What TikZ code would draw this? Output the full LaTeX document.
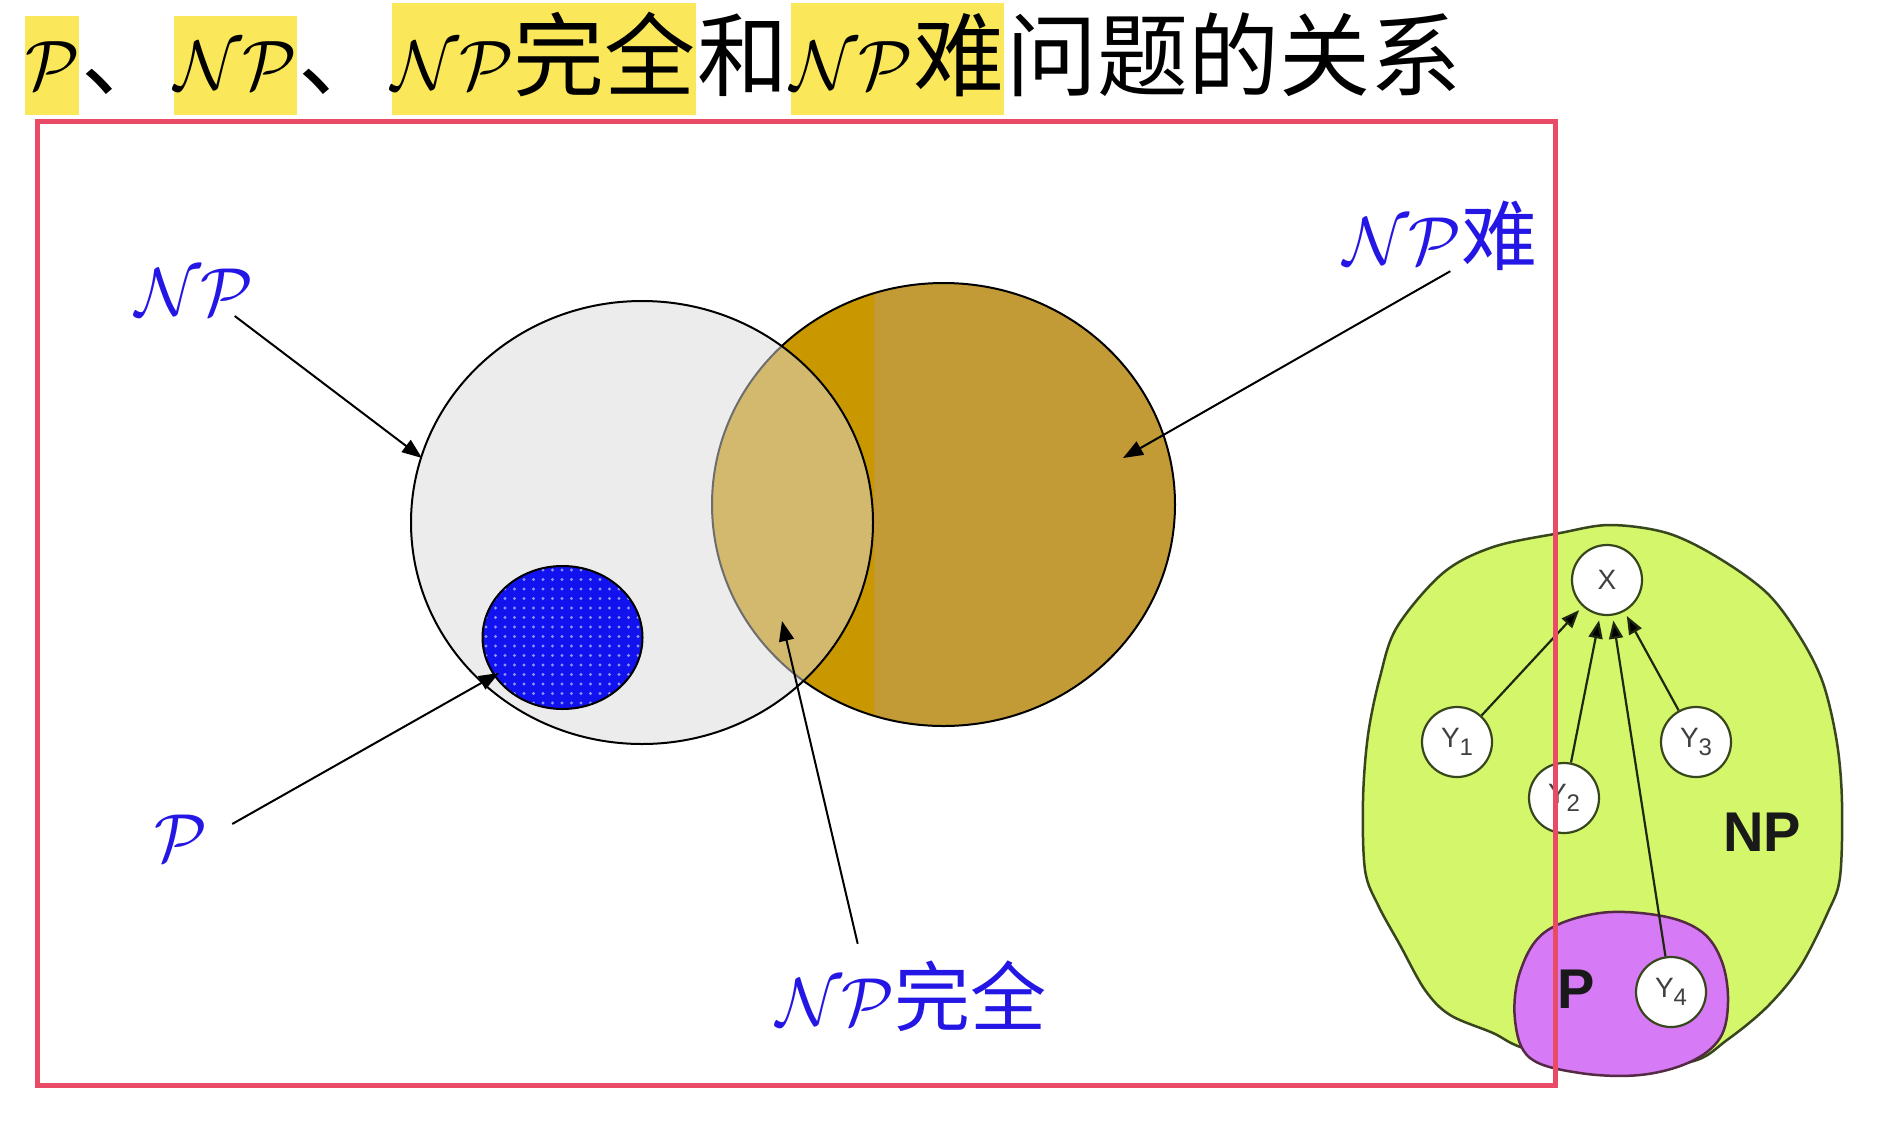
\RequirePackage{fix-cm}
\documentclass[tikz,border=0pt]{standalone}
\usepackage{fontspec}
\setsansfont{Liberation Sans}
\newfontfamily\cjk{Noto Sans CJK SC}
\usetikzlibrary{positioning,arrows.meta}

\definecolor{hlyellow}{RGB}{251,232,90}
\definecolor{framered}{RGB}{233,74,101}
\definecolor{labelblue}{RGB}{36,22,228}
\definecolor{hardgold}{RGB}{194,154,54}
\definecolor{stripgold}{RGB}{201,151,0}
\definecolor{npgray}{RGB}{219,219,219}
\definecolor{pblue}{RGB}{18,18,238}
\definecolor{pdot}{RGB}{140,150,255}
\definecolor{npgreen}{RGB}{212,246,106}
\definecolor{ppurple}{RGB}{214,122,246}
\definecolor{blobline}{RGB}{56,70,30}
\definecolor{arrowdark}{RGB}{30,40,16}

\newcommand{\tcjk}[1]{{\cjk\fontsize{91}{100}\selectfont #1}}
\newcommand{\lcjk}[1]{{\cjk\fontsize{76}{84}\selectfont #1}}
\newcommand{\ylab}[1]{Y\raisebox{-8pt}{\fontsize{24}{24}\selectfont #1}}

\begin{document}
\begin{tikzpicture}[x=1pt,y=-1pt,>={Triangle[length=20pt,width=15pt]},line width=2pt,
    hl/.style={fill=hlyellow,inner xsep=0pt,inner ysep=0pt,text height=73pt,text depth=26pt,font=\fontsize{70}{80}\selectfont},
    hl cjk/.style={hl,text height=86pt},
    plain/.style={hl,fill=none},
    set name/.style={text=labelblue,inner sep=0pt,font=\fontsize{68}{76}\selectfont},
    graph node/.style={circle,draw=blobline,fill=white,line width=2.2pt,minimum size=70pt,inner sep=0pt,text=black!75,font=\sffamily\fontsize{28}{28}\selectfont}]

    \useasboundingbox (0,0) rectangle (1884,1130);
    \fill[white] (0,0) rectangle (1884,1130);

    % title
    \node[hl, anchor=base west] (tp) at (24,89) {$\mathcal{P}$};
    \node[plain, base right=0pt of tp] (tc1) {\tcjk{、}};
    \node[hl, base right=0pt of tc1] (tnp) {$\mathcal{NP}$};
    \node[plain, base right=0pt of tnp] (tc2) {\tcjk{、}};
    \node[hl cjk, base right=0pt of tc2] (tnpc) {$\mathcal{NP}$\tcjk{完全}};
    \node[plain, base right=0pt of tnpc] (tand) {\tcjk{和}};
    \node[hl cjk, base right=0pt of tand] (tnph) {$\mathcal{NP}$\tcjk{难}};
    \node[plain, base right=0pt of tnph] (trest) {\tcjk{问题的关系}};

    % NP-hard
    \fill[hardgold] (943.5,504.5) ellipse [x radius=231.5, y radius=221.5];
    \begin{scope}
        \clip (700,270) rectangle (874,740);
        \fill[stripgold] (943.5,504.5) ellipse [x radius=231.5, y radius=221.5];
    \end{scope}
    \draw (943.5,504.5) ellipse [x radius=231.5, y radius=221.5];

    % NP
    \fill[npgray, fill opacity=.5] (642,522.5) ellipse [x radius=231, y radius=221.5];
    \draw (642,522.5) ellipse [x radius=231, y radius=221.5];

    % P
    \fill[pblue] (562.5,637.5) ellipse [x radius=80, y radius=71.5];
    \begin{scope}
        \clip (562.5,637.5) ellipse [x radius=80, y radius=71.5];
        \foreach \i in {0,...,17}
            \foreach \j in {0,...,15}
                \fill[pdot] (486+9.5*\i,570+9.5*\j) circle (1.6pt);
    \end{scope}
    \draw (562.5,637.5) ellipse [x radius=80, y radius=71.5];

    % labels
    \node[set name, anchor=base west] (lblnp) at (134,315) {$\mathcal{NP}$};
    \node[set name, anchor=base west] (lblnph) at (1342,264) {$\mathcal{NP}$\lcjk{难}};
    \node[set name, anchor=base west] (lblp) at (153,861) {$\mathcal{P}$};
    \node[set name, anchor=base west] (lblnpc) at (775,1025) {$\mathcal{NP}$\lcjk{完全}};

    \coordinate (tipnp) at (422,458);
    \coordinate (tipnph) at (1123,458);
    \coordinate (tipp) at (499,673);
    \coordinate (tipnpc) at (782,621);

    \draw[->] ([xshift=-20pt]lblnp.south east) -- (tipnp);
    \draw[->] ([xshift=10pt]lblnph.south) -- (tipnph);
    \draw[->, shorten <=28pt] (lblp.east) -- (tipp);
    \draw[->, shorten <=16pt] ([xshift=-50pt]lblnpc.north) -- (tipnpc);

    % reduction picture
    \filldraw[fill=npgreen, draw=blobline, line width=2.5pt] plot[smooth cycle, tension=0.55] coordinates {
        (1610,525) (1667,533) (1717,557) (1767,593) (1800,637) (1823,683) (1837,743)
        (1842,803) (1840,877) (1828,912) (1800,967) (1767,1007) (1727,1040) (1690,1062)
        (1600,1070) (1523,1048) (1493,1033) (1450,1015) (1425,990) (1400,945) (1378,905)
        (1365,870) (1363,800) (1368,735) (1380,677) (1397,627) (1443,573) (1493,547) (1560,533)};
    \filldraw[fill=ppurple, draw=blobline!60!violet, line width=2.5pt] plot[smooth cycle, tension=0.6] coordinates {
        (1600,913) (1662,916) (1702,932) (1722,962) (1728,1002) (1720,1038) (1690,1062)
        (1640,1075) (1580,1073) (1530,1058) (1515,1020) (1520,972) (1545,932)};

    \node[graph node] (x) at (1607,580) {X};
    \node[graph node] (y1) at (1457,742) {\ylab{1}};
    \node[graph node] (y2) at (1564,798) {\ylab{2}};
    \node[graph node] (y3) at (1696,742) {\ylab{3}};
    \node[graph node] (y4) at (1671,992) {\ylab{4}};

    \node[font=\sffamily\bfseries\fontsize{56}{56}\selectfont, text=black!90] (nplab) at (1762,832) {NP};
    \node[font=\sffamily\bfseries\fontsize{56}{56}\selectfont, text=black!90] (plab) at (1576,989) {P};

    \path[->, >={Triangle[length=18pt,width=14pt]}, draw=arrowdark, line width=2.2pt, shorten >=5pt]
        (y1) edge (x)
        (y2) edge (x)
        (y3) edge (x)
        (y4) edge (x);

    % frame
    \draw[framered, line width=5pt] (37,121) rectangle (1555,1085);
\end{tikzpicture}
\end{document}
